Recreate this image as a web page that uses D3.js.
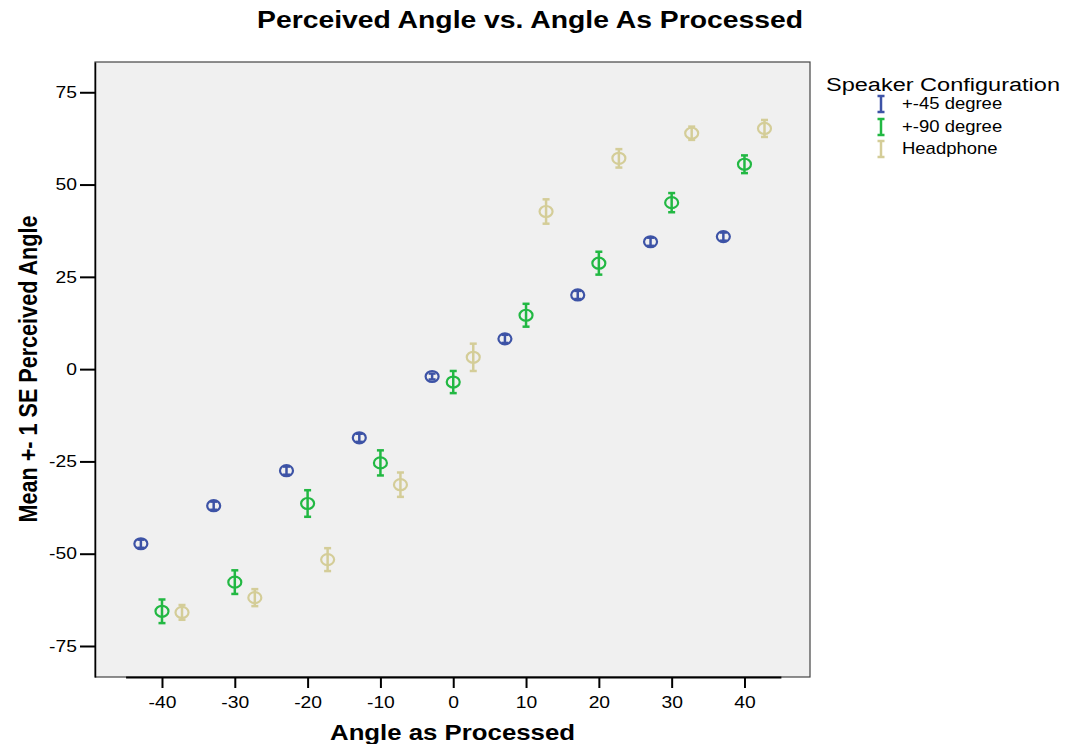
<!DOCTYPE html>
<html>
<head>
<meta charset="utf-8">
<script src="https://cdn.jsdelivr.net/npm/d3@7"></script>
<style>
  body { margin: 0; background: #fff; }
  text { font-family: "Liberation Sans", Arial, sans-serif; fill: #000; }
</style>
</head>
<body>
<script>
// data
var angles = [-40, -30, -20, -10, 0, 10, 20, 30, 40];
var seriesNames = ["+-45 degree", "+-90 degree", "Headphone"];
var seriesColors = ["#3d53a6", "#22b843", "#d4cd98"];
var seriesDodge = [-2.9, 0, 2.75];
var sp45Mean = [-47.3, -37.0, -27.5, -18.6, -2.0, 8.2, 20.1, 34.5, 35.9];
var sp45SE   = [1.1, 1.1, 1.1, 1.1, 0.8, 1.1, 1.1, 1.1, 1.1];
var sp90Mean = [-65.6, -57.7, -36.4, -25.4, -3.5, 14.6, 28.7, 45.1, 55.5];
var sp90SE   = [3.2, 3.2, 3.6, 3.4, 3.0, 3.1, 3.1, 2.6, 2.4];
var hpMean   = [-65.9, -61.9, -51.6, -31.3, 3.2, 42.7, 57.1, 63.9, 65.2];
var hpSE     = [2.0, 2.3, 3.1, 3.3, 3.7, 3.3, 2.5, 1.8, 2.3];
var xTicks = [-40, -30, -20, -10, 0, 10, 20, 30, 40];
var yTicks = [-75, -50, -25, 0, 25, 50, 75];

var means = [sp45Mean, sp90Mean, hpMean];
var ses = [sp45SE, sp90SE, hpSE];

var W = 1065, H = 744;
var pLeft = 95, pRight = 810, pTop = 62, pBottom = 677;
var sx = 1.17; // the picture is a bit wide, so horizontal text is stretched

var x = d3.scaleLinear().domain([-49.2, 49]).range([pLeft, pRight]);
var y = d3.scaleLinear().domain([-83.4, 83.2]).range([pBottom, pTop]);
var plain = function (d) { return String(d); };

var svg = d3.select(document.body).append('svg')
    .attr('width', W).attr('height', H);

// plot area
svg.append('rect')
    .attr('x', pLeft).attr('y', pTop)
    .attr('width', pRight - pLeft).attr('height', pBottom - pTop)
    .attr('fill', '#f0f0f0')
    .attr('stroke', '#444').attr('stroke-width', 1.2);

// x axis (its line runs -45..45 only)
var xAxisScale = d3.scaleLinear().domain([-45, 45]).range([x(-45), x(45)]);
var gx = svg.append('g')
    .attr('transform', 'translate(0,' + pBottom + ')')
    .call(d3.axisBottom(xAxisScale).tickValues(xTicks).tickFormat(plain)
        .tickSize(11).tickSizeOuter(0).tickPadding(8));
gx.select('.domain').attr('stroke', '#000').attr('stroke-width', 2);
gx.selectAll('.tick line').attr('stroke', '#000').attr('stroke-width', 2);
gx.selectAll('.tick text')
    .style('font-size', '16.5px').style('font-family', '"Liberation Sans", Arial, sans-serif')
    .attr('fill', '#000')
    .each(function () {
        var t = d3.select(this);
        var ty = +t.attr('y');
        t.attr('y', 0).attr('transform', 'translate(0,' + ty + ') scale(' + sx + ',1)');
    });

// y axis
var gy = svg.append('g')
    .attr('transform', 'translate(' + pLeft + ',0)')
    .call(d3.axisLeft(y).tickValues(yTicks).tickFormat(plain)
        .tickSize(15).tickSizeOuter(0).tickPadding(3));
gy.select('.domain').attr('stroke', '#000').attr('stroke-width', 1.5);
gy.selectAll('.tick line').attr('stroke', '#000').attr('stroke-width', 2);
gy.selectAll('.tick text')
    .style('font-size', '16.5px').style('font-family', '"Liberation Sans", Arial, sans-serif')
    .attr('fill', '#000')
    .each(function () {
        var t = d3.select(this);
        var tx = +t.attr('x');
        t.attr('x', 0).attr('transform', 'translate(' + tx + ',0) scale(' + sx + ',1)');
    });

// error bars and markers
seriesNames.forEach(function (name, s) {
    var g = svg.append('g').attr('class', 'series');
    var col = seriesColors[s];
    var pts = angles.map(function (a, i) {
        return { a: a + seriesDodge[s], m: means[s][i], se: ses[s][i] };
    });
    var sel = g.selectAll('g.pt').data(pts).enter().append('g').attr('class', 'pt');
    sel.append('line')
        .attr('x1', function (d) { return x(d.a); })
        .attr('x2', function (d) { return x(d.a); })
        .attr('y1', function (d) { return y(d.m - d.se); })
        .attr('y2', function (d) { return y(d.m + d.se); })
        .attr('stroke', col).attr('stroke-width', 2.5);
    [-1, 1].forEach(function (k) {
        sel.append('line')
            .attr('x1', function (d) { return x(d.a) - 3.5; })
            .attr('x2', function (d) { return x(d.a) + 3.5; })
            .attr('y1', function (d) { return y(d.m + k * d.se); })
            .attr('y2', function (d) { return y(d.m + k * d.se); })
            .attr('stroke', col).attr('stroke-width', 2.5);
    });
    sel.append('ellipse')
        .attr('cx', function (d) { return x(d.a); })
        .attr('cy', function (d) { return y(d.m); })
        .attr('rx', 6.5).attr('ry', 5.5)
        .attr('fill', 'none')
        .attr('stroke', col).attr('stroke-width', 2.2);
});

// stretched text helper
function label(txt, tx, ty, size, bold, anchor, len, extra) {
    var t = svg.append('text')
        .attr('transform', 'translate(' + tx + ',' + ty + ')' + (extra || ' scale(' + sx + ',1)'))
        .attr('text-anchor', anchor)
        .style('font-size', size + 'px')
        .style('font-weight', bold ? 'bold' : 'normal')
        .text(txt);
    if (len) t.attr('textLength', len).attr('lengthAdjust', 'spacingAndGlyphs');
    return t;
}

label('Perceived Angle vs. Angle As Processed', 530, 28, 23, true, 'middle', 546 / sx);
label('Angle as Processed', 452.5, 740, 22, true, 'middle', 245 / sx);
label('Mean +- 1 SE Perceived Angle', 37, 369, 22, true, 'middle', 307, ' scale(' + sx + ',1) rotate(-90)');

// legend
label('Speaker Configuration', 826, 91, 19, false, 'start', 234 / sx);
var legendY = [104, 127, 149];
var lg = svg.append('g').selectAll('g').data(seriesNames).enter().append('g');
lg.append('line')
    .attr('x1', 881).attr('x2', 881)
    .attr('y1', function (d, i) { return legendY[i] - 8; })
    .attr('y2', function (d, i) { return legendY[i] + 8; })
    .attr('stroke', function (d, i) { return seriesColors[i]; }).attr('stroke-width', 2.5);
[-8, 8].forEach(function (k) {
    lg.append('line')
        .attr('x1', 877.5).attr('x2', 884.5)
        .attr('y1', function (d, i) { return legendY[i] + k; })
        .attr('y2', function (d, i) { return legendY[i] + k; })
        .attr('stroke', function (d, i) { return seriesColors[i]; }).attr('stroke-width', 2.5);
});
seriesNames.forEach(function (n, i) {
    label(n, 902, legendY[i] + 5, 15.8, false, 'start');
});
</script>
</body>
</html>
